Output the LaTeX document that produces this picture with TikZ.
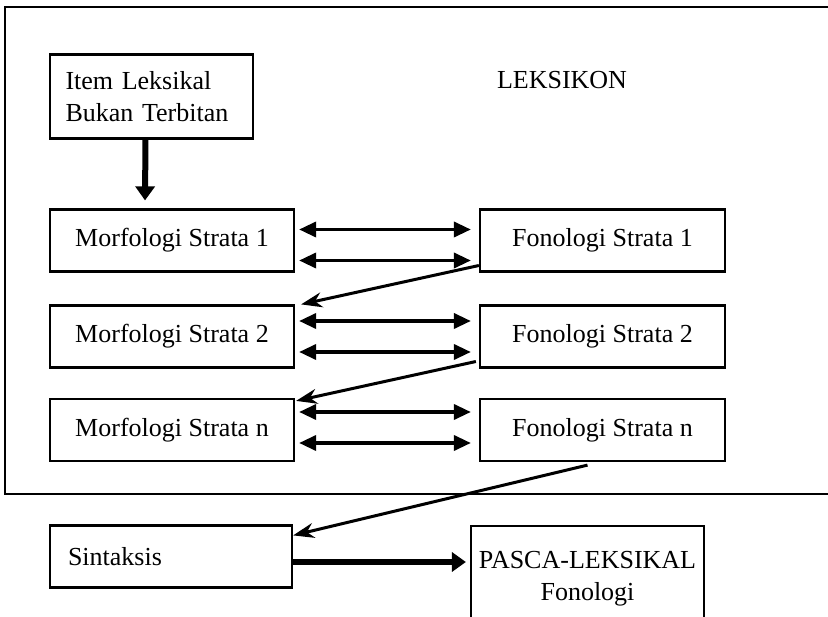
\documentclass[tikz,border=0pt]{standalone}
\usepackage{fontspec}
\setmainfont{Liberation Serif}
\usepackage{tikz}
\usetikzlibrary{positioning,calc,arrows.meta}

\begin{document}
\begin{tikzpicture}[x=1pt,y=-1pt,
    box/.style={draw, line width=2.2pt, inner sep=0pt, minimum height=62pt},
    dbl/.style={line width=3.5pt, {Triangle[length=17pt,width=15pt]}-{Triangle[length=17pt,width=15pt]}},
    fat/.style={line width=6pt, -{Triangle[length=14pt,width=19pt]}},
    diag/.style={line width=3pt, -{Stealth[length=21pt,width=15pt]}},
    font=\fontsize{26}{32}\selectfont]
    \useasboundingbox (0,0) rectangle (828,617);
    \clip (0,0) rectangle (828,617);

    % frame of the lexicon
    \draw[line width=2.2pt] (830,7) -- (5,7) -- (5,494) -- (830,494);
    \node (lek) at (562,80) {LEKSIKON};

    \node[box, minimum width=203pt, minimum height=84pt, text width=172pt, align=left] (item) at (151.5,96.5) {Item Leksikal\\Bukan Terbitan};

    \node[box, minimum width=244pt] (m1) at (172,240.5) {Morfologi Strata 1};
    \node[box, minimum width=245pt] (f1) at (602.5,240.5) {Fonologi Strata 1};
    \node[box, minimum width=244pt] (m2) at (172,336.5) {Morfologi Strata 2};
    \node[box, minimum width=245pt] (f2) at (602.5,336.5) {Fonologi Strata 2};
    \node[box, minimum width=244pt] (mn) at (172,430) {Morfologi Strata n};
    \node[box, minimum width=245pt] (fn) at (602.5,430) {Fonologi Strata n};

    % outside the lexicon
    \node[box, minimum width=242pt, text width=206pt, align=left] (sin) at (171,556.5) {Sintaksis};
    \node[box, minimum width=233pt, minimum height=106pt, align=center] (pasca) at (587.5,579) {PASCA-LEKSIKAL\\Fonologi};

    \draw[fat] ([xshift=-6pt]item.south) -- ([xshift=-27pt,yshift=8pt]m1.north);

    \draw[dbl] ([xshift=4pt,yshift=11pt]m1.east) -- ([xshift=-8pt,yshift=11pt]f1.west);
    \draw[dbl] ([xshift=4pt,yshift=-20pt]m1.east) -- ([xshift=-8pt,yshift=-20pt]f1.west);
    \draw[dbl] ([xshift=4pt,yshift=15.5pt]m2.east) -- ([xshift=-8pt,yshift=15.5pt]f2.west);
    \draw[dbl] ([xshift=4pt,yshift=-15.5pt]m2.east) -- ([xshift=-8pt,yshift=-15.5pt]f2.west);
    \draw[dbl] ([xshift=4pt,yshift=18pt]mn.east) -- ([xshift=-8pt,yshift=18pt]fn.west);
    \draw[dbl] ([xshift=4pt,yshift=-13pt]mn.east) -- ([xshift=-8pt,yshift=-13pt]fn.west);

    \draw[diag] ([yshift=-25pt]f1.west) -- ([xshift=6pt]m2.north east);
    \draw[diag] ([xshift=-3pt,yshift=-25pt]f2.west) -- ([xshift=1pt,yshift=-3pt]mn.north east);
    \draw[diag] ([xshift=-15pt,yshift=-3pt]fn.south) -- ([yshift=-11pt]sin.north east);

    \coordinate (sinout) at ([yshift=-5.5pt]sin.east);
    \draw[fat] (sinout) -- ([xshift=-4pt]sinout -| pasca.west);
\end{tikzpicture}
\end{document}
